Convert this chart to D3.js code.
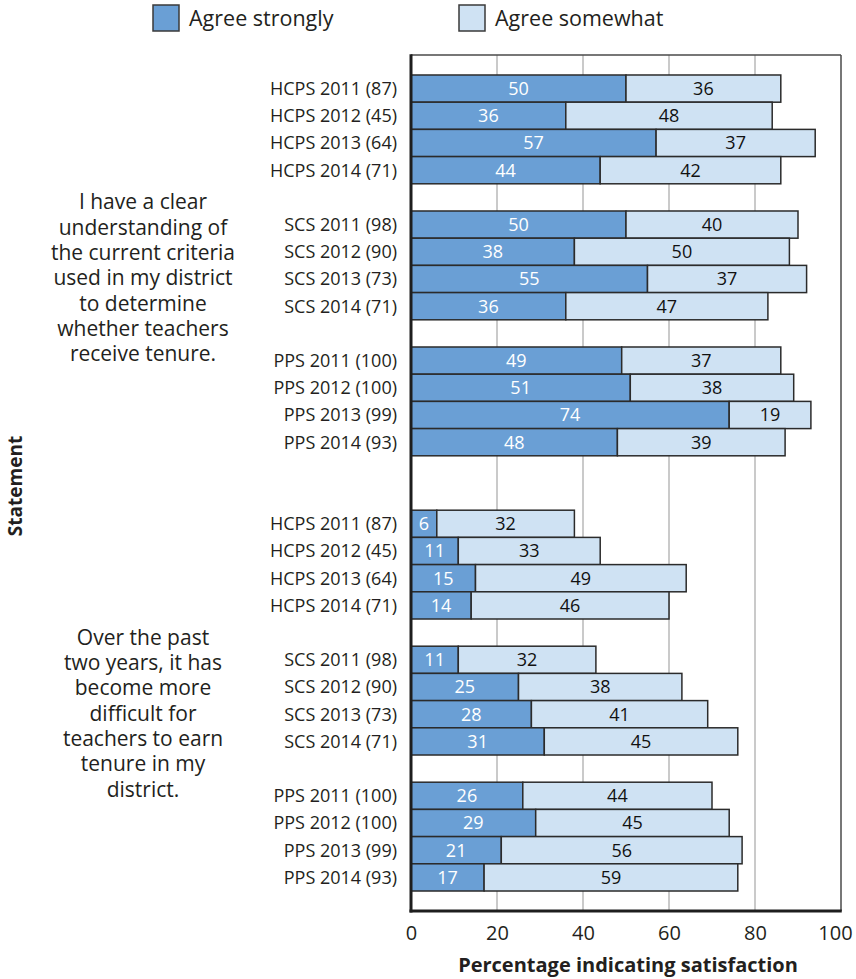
<!DOCTYPE html>
<html>
<head>
<meta charset="utf-8">
<script src="https://cdn.jsdelivr.net/npm/d3@7"></script>
<style>
  html, body { margin: 0; padding: 0; background: #fff; }
  svg { display: block; font-family: "Open Sans", "Noto Sans", sans-serif; }
</style>
</head>
<body>
<svg id="chart" width="856" height="979"></svg>
<script>
// ---- data ----
const districts = ["HCPS", "SCS", "PPS"];
const years = [2011, 2012, 2013, 2014];
const respondents = [87, 45, 64, 71, 98, 90, 73, 71, 100, 100, 99, 93];

const statements = [
  ["I have a clear", "understanding of", "the current criteria", "used in my district",
   "to determine", "whether teachers", "receive tenure."],
  ["Over the past", "two years, it has", "become more", "difficult for",
   "teachers to earn", "tenure in my", "district."]
];

// percentages, one entry per district-year row (HCPS, SCS, PPS x 2011-2014)
const stronglyCriteria = [50, 36, 57, 44, 50, 38, 55, 36, 49, 51, 74, 48];
const somewhatCriteria = [36, 48, 37, 42, 40, 50, 37, 47, 37, 38, 19, 39];
const stronglyHarder   = [6, 11, 15, 14, 11, 25, 28, 31, 26, 29, 21, 17];
const somewhatHarder   = [32, 33, 49, 46, 32, 38, 41, 45, 44, 45, 56, 59];

const seriesNames = ["Agree strongly", "Agree somewhat"];
const xTicks = [0, 20, 40, 60, 80, 100];

const colors = { strong: "#6a9fd5", some: "#cfe2f3", edge: "#2b2b2b", text: "#231f20" };

// ---- rows, with empty slots separating districts and statements ----
const strongly = [stronglyCriteria, stronglyHarder];
const somewhat = [somewhatCriteria, somewhatHarder];
const rows = [];
const slots = [];
statements.forEach((_, s) => {
  districts.forEach((d, di) => {
    years.forEach((yr, yi) => {
      const i = di * years.length + yi;
      const key = `s${s}-${d}-${yr}`;
      rows.push({ key, stmt: s, label: `${d} ${yr} (${respondents[i]})`,
                  strong: strongly[s][i], some: somewhat[s][i] });
      slots.push(key);
    });
    if (di < districts.length - 1) slots.push(`gap-${s}-${di}`);
  });
  if (s < statements.length - 1) { slots.push(`gap-${s}-a`); slots.push(`gap-${s}-b`); }
});

// ---- layout ----
const svg = d3.select("#chart");
const plot = { left: 411, right: 841, top: 55, bottom: 911 };

const x = d3.scaleLinear().domain([0, 100]).range([plot.left, plot.right]);
const y = d3.scaleBand().domain(slots).range([plot.top, plot.bottom])
  .paddingInner(0).paddingOuter(0.735);

// gridlines
svg.append("g").selectAll("line")
  .data(xTicks.filter(t => t > 0 && t < 100))
  .join("line")
  .attr("x1", d => x(d)).attr("x2", d => x(d))
  .attr("y1", plot.top).attr("y2", plot.bottom)
  .attr("stroke", "#b9b9b9").attr("stroke-width", 1.5);

// bars
const barG = svg.append("g");
const rowG = barG.selectAll("g").data(rows).join("g");

rowG.append("rect")
  .attr("x", x(0))
  .attr("y", d => y(d.key))
  .attr("width", d => x(d.strong) - x(0))
  .attr("height", y.bandwidth())
  .attr("fill", colors.strong)
  .attr("stroke", colors.edge).attr("stroke-width", 1.5);

rowG.append("rect")
  .attr("x", d => x(d.strong))
  .attr("y", d => y(d.key))
  .attr("width", d => x(d.strong + d.some) - x(d.strong))
  .attr("height", y.bandwidth())
  .attr("fill", colors.some)
  .attr("stroke", colors.edge).attr("stroke-width", 1.5);

// value labels
rowG.append("text")
  .attr("x", d => (x(0) + x(d.strong)) / 2)
  .attr("y", d => y(d.key) + y.bandwidth() / 2)
  .attr("dy", "0.36em")
  .attr("text-anchor", "middle")
  .attr("font-size", 18)
  .attr("fill", "#fff")
  .text(d => d.strong);

rowG.append("text")
  .attr("x", d => (x(d.strong) + x(d.strong + d.some)) / 2)
  .attr("y", d => y(d.key) + y.bandwidth() / 2)
  .attr("dy", "0.36em")
  .attr("text-anchor", "middle")
  .attr("font-size", 18)
  .attr("fill", "#111")
  .text(d => d.some);

// row labels
rowG.append("text")
  .attr("x", plot.left - 14)
  .attr("y", d => y(d.key) + y.bandwidth() / 2)
  .attr("dy", "0.36em")
  .attr("text-anchor", "end")
  .attr("font-size", 18)
  .attr("fill", colors.text)
  .text(d => d.label);

// statement text, centred on each block of rows
statements.forEach((lines, s) => {
  const keys = rows.filter(r => r.stmt === s).map(r => r.key);
  const top = y(keys[0]);
  const bottom = y(keys[keys.length - 1]) + y.bandwidth();
  const mid = (top + bottom) / 2;
  const lh = 25.3;
  svg.append("text")
    .attr("text-anchor", "middle")
    .attr("font-size", 21)
    .attr("fill", colors.text)
    .selectAll("tspan").data(lines).join("tspan")
    .attr("x", 143)
    .attr("y", (d, i) => mid + 20 + (i - (lines.length - 1) / 2) * lh)
    .text(d => d);
});

// frame: heavy left and bottom, light top and right
svg.append("line").attr("x1", plot.left).attr("x2", plot.right)
  .attr("y1", plot.top).attr("y2", plot.top)
  .attr("stroke", "#4a4a4a").attr("stroke-width", 1.5);
svg.append("line").attr("x1", plot.right).attr("x2", plot.right)
  .attr("y1", plot.top).attr("y2", plot.bottom)
  .attr("stroke", "#4a4a4a").attr("stroke-width", 1.5);
svg.append("line").attr("x1", plot.left).attr("x2", plot.left)
  .attr("y1", plot.top - 0.75).attr("y2", plot.bottom + 1.5)
  .attr("stroke", "#1e1e1e").attr("stroke-width", 3);
svg.append("line").attr("x1", plot.left - 1.5).attr("x2", plot.right + 0.75)
  .attr("y1", plot.bottom).attr("y2", plot.bottom)
  .attr("stroke", "#1e1e1e").attr("stroke-width", 3);

// x axis
const xAxis = svg.append("g")
  .attr("transform", `translate(0,${plot.bottom})`)
  .call(d3.axisBottom(x).tickValues(xTicks).tickSize(0).tickPadding(15));
xAxis.select(".domain").remove();
xAxis.selectAll("text")
  .attr("font-size", 20)
  .attr("font-family", "'Open Sans', 'Noto Sans', sans-serif")
  .attr("fill", colors.text)
  .attr("dx", d => d === 100 ? -6 : 0);

// axis titles
svg.append("text")
  .attr("x", 628).attr("y", 972)
  .attr("text-anchor", "middle")
  .attr("font-size", 20).attr("font-weight", "bold")
  .attr("fill", colors.text)
  .text("Percentage indicating satisfaction");

svg.append("text")
  .attr("transform", "translate(22,486) rotate(-90)")
  .attr("text-anchor", "middle")
  .attr("font-size", 19).attr("font-weight", "bold")
  .attr("fill", colors.text)
  .text("Statement");

// legend
const legendX = [153, 459];
const legend = svg.append("g").selectAll("g").data(seriesNames).join("g")
  .attr("transform", (d, i) => `translate(${legendX[i]},5)`);
legend.append("rect")
  .attr("width", 26).attr("height", 26)
  .attr("fill", (d, i) => i === 0 ? colors.strong : colors.some)
  .attr("stroke", "#3a3a3a").attr("stroke-width", 1.5);
legend.append("text")
  .attr("x", 36).attr("y", 13).attr("dy", "0.36em")
  .attr("font-size", 21.5)
  .attr("fill", colors.text)
  .text(d => d);
</script>
</body>
</html>
